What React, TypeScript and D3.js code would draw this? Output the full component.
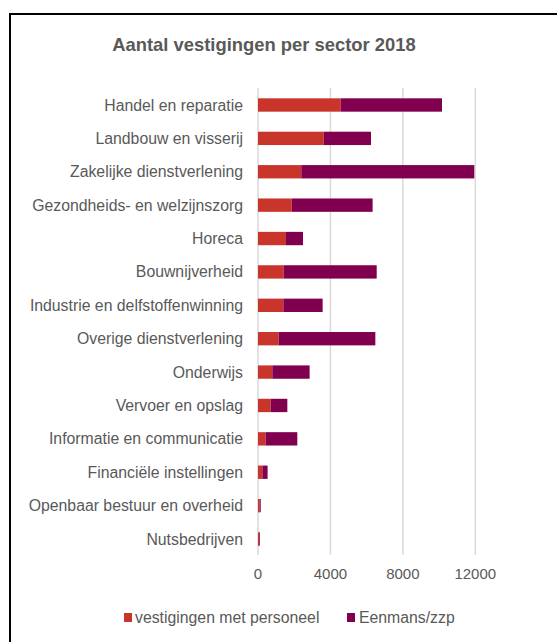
import React from "react";
import * as d3 from "d3";

const categories = [
  "Handel en reparatie",
  "Landbouw en visserij",
  "Zakelijke dienstverlening",
  "Gezondheids- en welzijnszorg",
  "Horeca",
  "Bouwnijverheid",
  "Industrie en delfstoffenwinning",
  "Overige dienstverlening",
  "Onderwijs",
  "Vervoer en opslag",
  "Informatie en communicatie",
  "Financiële instellingen",
  "Openbaar bestuur en overheid",
  "Nutsbedrijven",
];
const metPersoneel = [4570, 3630, 2390, 1860, 1545, 1420, 1400, 1140, 790, 700, 420, 240, 100, 70];
const eenmans = [5590, 2610, 9555, 4470, 940, 5135, 2170, 5340, 2060, 920, 1750, 290, 50, 40];
const xTicks = [0, 4000, 8000, 12000];
const seriesNames = ["vestigingen met personeel", "Eenmans/zzp"];
const colors = ["#C9352A", "#80004F"];

export default function App() {
  const W = 557, H = 642;
  const x = d3.scaleLinear().domain([0, 12000]).range([258, 475.3]);
  const y = d3.scaleBand<string>().domain(categories).range([88.3, 555.7]).paddingInner(0.6).paddingOuter(0.3);
  const font = "'Liberation Sans', Arial, sans-serif";
  const textColor = "#595959";
  return (
    <svg width={W} height={H} style={{ position: "absolute", left: 0, top: 0 }}>
      <rect x={0} y={0} width={W} height={H} fill="#fff" />
      <rect x={10} y={14} width={700} height={700} fill="none" stroke="#000" strokeWidth={2} />
      <text x={264} y={51} textAnchor="middle" fontFamily={font} fontSize={18.4} fontWeight="bold" fill={textColor}>
        Aantal vestigingen per sector 2018
      </text>
      {xTicks.map((t) => (
        <g key={t}>
          <line x1={x(t)} x2={x(t)} y1={88} y2={555} stroke="#D9D9D9" strokeWidth={1.5} />
          <text x={x(t)} y={579} textAnchor="middle" fontFamily={font} fontSize={15} fill={textColor}>
            {t}
          </text>
        </g>
      ))}
      {categories.map((c, i) => {
        const y0 = y(c)!;
        const bw = y.bandwidth();
        return (
          <g key={c}>
            <text x={243} y={y0 + bw / 2} dy="0.35em" textAnchor="end" fontFamily={font} fontSize={15.8} fill={textColor}>
              {c}
            </text>
            <rect x={x(0)} y={y0} width={x(metPersoneel[i]) - x(0)} height={bw} fill={colors[0]} />
            <rect x={x(metPersoneel[i])} y={y0} width={x(metPersoneel[i] + eenmans[i]) - x(metPersoneel[i])} height={bw} fill={colors[1]} />
          </g>
        );
      })}
      <g>
        <rect x={124} y={613} width={8} height={9} fill={colors[0]} />
        <text x={135} y={622.5} fontFamily={font} fontSize={15.8} fill={textColor}>{seriesNames[0]}</text>
        <rect x={347} y={613} width={8} height={9} fill={colors[1]} />
        <text x={359} y={622.5} fontFamily={font} fontSize={15.8} fill={textColor}>{seriesNames[1]}</text>
      </g>
    </svg>
  );
}
